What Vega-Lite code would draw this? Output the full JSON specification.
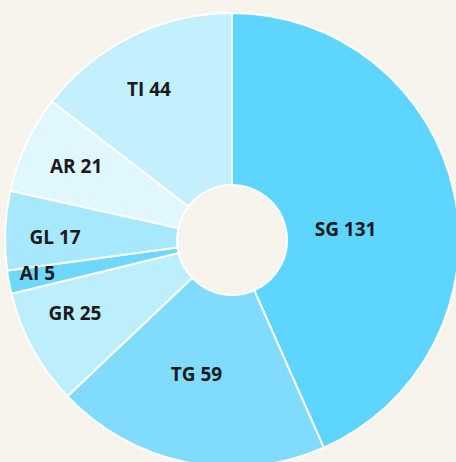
{
  "$schema": "https://vega.github.io/schema/vega-lite/v6.json",
  "width": 448,
  "height": 480,
  "autosize": "none",
  "padding": {"left": 8, "top": 0, "right": 0, "bottom": 0},
  "background": "#f7f4ee",
  "config": {"view": {"stroke": null}},
  "data": {
    "values": [
      {"idx": 1, "code": "SG", "value": 131},
      {"idx": 2, "code": "TG", "value": 59},
      {"idx": 3, "code": "GR", "value": 25},
      {"idx": 4, "code": "AI", "value": 5},
      {"idx": 5, "code": "GL", "value": 17},
      {"idx": 6, "code": "AR", "value": 21},
      {"idx": 7, "code": "TI", "value": 44}
    ]
  },
  "transform": [
    {"stack": "value", "groupby": [], "sort": [{"field": "idx", "order": "ascending"}], "as": ["s0", "s1"]},
    {"calculate": "(datum.s0 + datum.s1) / 2", "as": "mid"},
    {"calculate": "datum.code + ' ' + datum.value", "as": "label"}
  ],
  "layer": [
    {
      "mark": {"type": "arc", "outerRadius": 227, "innerRadius": 55, "stroke": "#ffffff", "strokeWidth": 2},
      "encoding": {
        "theta": {"field": "s0", "type": "quantitative", "scale": {"domain": [0, 302], "zero": true, "nice": false}},
        "theta2": {"field": "s1"},
        "color": {
          "field": "code", "type": "nominal", "legend": null,
          "scale": {
            "domain": ["SG", "TG", "GR", "AI", "GL", "AR", "TI"],
            "range": ["#5dd5fe", "#80dbfd", "#bdeefc", "#6ed7fc", "#a8e8fc", "#e0f7fe", "#c4effd"]
          }
        }
      }
    },
    {
      "transform": [{"filter": "datum.code == 'SG'"}],
      "mark": {"type": "text", "radius": 114, "dx": 2, "dy": 14, "font": "Open Sans", "fontWeight": "bold", "fontSize": 19, "fill": "#1a1a1a"},
      "encoding": {"theta": {"field": "mid", "type": "quantitative"}, "text": {"field": "label"}}
    },
    {
      "transform": [{"filter": "datum.code == 'TG'"}],
      "mark": {"type": "text", "radius": 140, "dx": -8, "dy": -2, "font": "Open Sans", "fontWeight": "bold", "fontSize": 19, "fill": "#1a1a1a"},
      "encoding": {"theta": {"field": "mid", "type": "quantitative"}, "text": {"field": "label"}}
    },
    {
      "transform": [{"filter": "datum.code == 'GR'"}],
      "mark": {"type": "text", "radius": 172, "dx": -6, "dy": -8, "font": "Open Sans", "fontWeight": "bold", "fontSize": 19, "fill": "#1a1a1a"},
      "encoding": {"theta": {"field": "mid", "type": "quantitative"}, "text": {"field": "label"}}
    },
    {
      "transform": [{"filter": "datum.code == 'AI'"}],
      "mark": {"type": "text", "radius": 198, "dy": -3, "font": "Open Sans", "fontWeight": "bold", "fontSize": 19, "fill": "#1a1a1a"},
      "encoding": {"theta": {"field": "mid", "type": "quantitative"}, "text": {"field": "label"}}
    },
    {
      "transform": [{"filter": "datum.code == 'GL'"}],
      "mark": {"type": "text", "radius": 172, "dx": -5, "dy": 5, "font": "Open Sans", "fontWeight": "bold", "fontSize": 19, "fill": "#1a1a1a"},
      "encoding": {"theta": {"field": "mid", "type": "quantitative"}, "text": {"field": "label"}}
    },
    {
      "transform": [{"filter": "datum.code == 'AR'"}],
      "mark": {"type": "text", "radius": 172, "font": "Open Sans", "fontWeight": "bold", "fontSize": 19, "fill": "#1a1a1a"},
      "encoding": {"theta": {"field": "mid", "type": "quantitative"}, "text": {"field": "label"}}
    },
    {
      "transform": [{"filter": "datum.code == 'TI'"}],
      "mark": {"type": "text", "radius": 172, "dx": -7, "dy": 4, "font": "Open Sans", "fontWeight": "bold", "fontSize": 19, "fill": "#1a1a1a"},
      "encoding": {"theta": {"field": "mid", "type": "quantitative"}, "text": {"field": "label"}}
    }
  ]
}
